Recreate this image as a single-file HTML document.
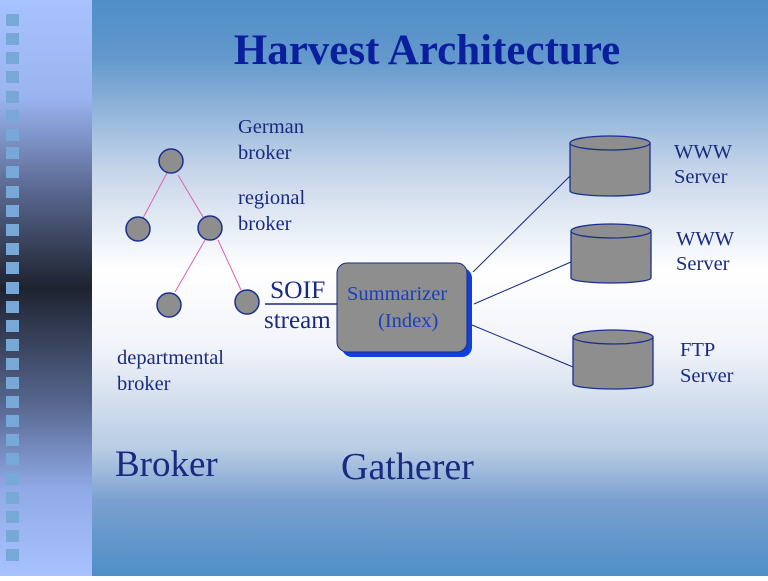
<!DOCTYPE html>
<html><head><style>
body{margin:0;width:768px;height:576px;overflow:hidden;font-family:"Liberation Serif",serif}
</style></head><body>
<svg width="768" height="576" xmlns="http://www.w3.org/2000/svg">
<defs>
<linearGradient id="L" x1="0" y1="0" x2="0" y2="1">
<stop offset="0" stop-color="#a8c2ff"/><stop offset="0.17" stop-color="#9ab4f0"/>
<stop offset="0.33" stop-color="#5a6890"/><stop offset="0.5" stop-color="#1e2330"/>
<stop offset="0.7" stop-color="#56668e"/><stop offset="0.85" stop-color="#90aae8"/>
<stop offset="1" stop-color="#a8c2ff"/></linearGradient>
<linearGradient id="M" x1="0" y1="0" x2="0" y2="1">
<stop offset="0" stop-color="#4f8ec8"/><stop offset="0.1" stop-color="#6398cc"/>
<stop offset="0.3" stop-color="#c8d6ea"/><stop offset="0.47" stop-color="#ffffff"/>
<stop offset="0.6" stop-color="#f2f4fa"/><stop offset="0.78" stop-color="#b8cce4"/>
<stop offset="0.87" stop-color="#7aa0d0"/><stop offset="1" stop-color="#4f8ec8"/></linearGradient>
</defs>
<rect x="0" y="0" width="92" height="576" fill="url(#L)"/>
<rect x="92" y="0" width="676" height="576" fill="url(#M)"/>
<g fill="#78a8d8">
<rect x="6" y="14" width="13" height="12"/><rect x="6" y="33" width="13" height="12"/><rect x="6" y="52" width="13" height="12"/><rect x="6" y="71" width="13" height="12"/><rect x="6" y="91" width="13" height="12"/><rect x="6" y="110" width="13" height="12"/><rect x="6" y="129" width="13" height="12"/><rect x="6" y="147" width="13" height="12"/><rect x="6" y="166" width="13" height="12"/><rect x="6" y="186" width="13" height="12"/><rect x="6" y="205" width="13" height="12"/><rect x="6" y="224" width="13" height="12"/><rect x="6" y="243" width="13" height="12"/><rect x="6" y="282" width="13" height="12"/><rect x="6" y="262" width="13" height="12"/><rect x="6" y="301" width="13" height="12"/><rect x="6" y="320" width="13" height="12"/><rect x="6" y="339" width="13" height="12"/><rect x="6" y="358" width="13" height="12"/><rect x="6" y="377" width="13" height="12"/><rect x="6" y="396" width="13" height="12"/><rect x="6" y="415" width="13" height="12"/><rect x="6" y="434" width="13" height="12"/><rect x="6" y="453" width="13" height="12"/><rect x="6" y="473" width="13" height="12"/><rect x="6" y="492" width="13" height="12"/><rect x="6" y="511" width="13" height="12"/><rect x="6" y="530" width="13" height="12"/><rect x="6" y="549" width="13" height="12"/>
</g>
<text x="427" y="64" text-anchor="middle" font-size="43" font-weight="bold" fill="#0a1f9c">Harvest Architecture</text>
<g stroke="#e060b0" stroke-width="1">
<line x1="167" y1="173" x2="143" y2="218"/><line x1="178" y1="175" x2="203" y2="217"/>
<line x1="205" y1="240" x2="175" y2="292"/><line x1="218" y1="240" x2="241" y2="290"/>
</g>
<g fill="#8e8e8e" stroke="#1a3090" stroke-width="1.5">
<circle cx="171" cy="161" r="12"/><circle cx="138" cy="229" r="12"/><circle cx="210" cy="228" r="12"/>
<circle cx="169" cy="305" r="12"/><circle cx="247" cy="302" r="12"/>
</g>
<g fill="#1a2a80" font-size="20.5">
<text x="238" y="133">German</text><text x="238" y="159">broker</text>
<text x="238" y="204">regional</text><text x="238" y="230">broker</text>
<text x="117" y="364">departmental</text><text x="117" y="390">broker</text>
<text x="674" y="158">WWW</text><text x="674" y="183">Server</text>
<text x="676" y="245">WWW</text><text x="676" y="270">Server</text>
<text x="680" y="356">FTP</text><text x="680" y="382">Server</text>
<text x="270" y="298" font-size="25.5">SOIF</text><text x="264" y="328" font-size="25">stream</text>
<text x="115" y="476" font-size="37">Broker</text><text x="341" y="479" font-size="38">Gatherer</text>
</g>
<line x1="265" y1="304" x2="337" y2="304" stroke="#1a2a80" stroke-width="1.5"/>
<g stroke="#1a2a80" stroke-width="1">
<line x1="473" y1="272" x2="570" y2="176"/><line x1="474" y1="304" x2="571" y2="262"/><line x1="472" y1="325" x2="573" y2="367"/>
</g>
<rect x="342" y="268" width="130" height="89" rx="10" fill="#1040e0"/>
<rect x="337" y="263" width="130" height="89" rx="10" fill="#8e8e8e" stroke="#1a2a80" stroke-width="1"/>
<text x="347" y="300" font-size="20.5" fill="#1840c0">Summarizer</text>
<text x="378" y="327" font-size="20.5" fill="#1840c0">(Index)</text>
<g fill="#8e8e8e" stroke="#1a3090" stroke-width="1.3">
<path d="M570 143 V191 A40 5 0 0 0 650 191 V143"/><ellipse cx="610" cy="143" rx="40" ry="7"/>
<path d="M571 231 V278 A40 5 0 0 0 651 278 V231"/><ellipse cx="611" cy="231" rx="40" ry="7"/>
<path d="M573 337 V384 A40 5 0 0 0 653 384 V337"/><ellipse cx="613" cy="337" rx="40" ry="7"/>
</g>
</svg>
</body></html>
